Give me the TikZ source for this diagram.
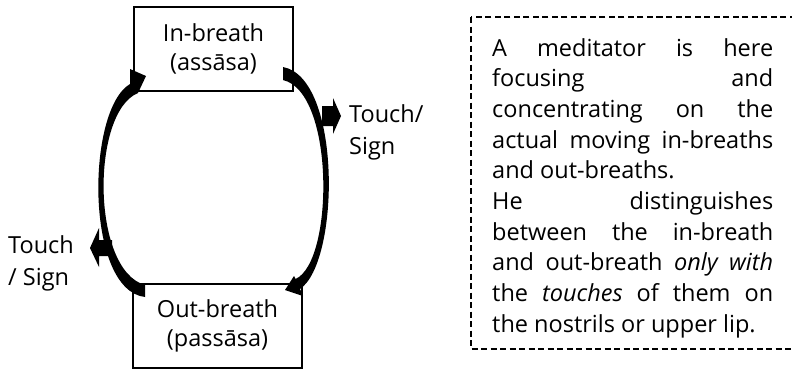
\documentclass[tikz,border=0pt]{standalone}
\usepackage{fontspec}
\setmainfont{Open Sans}
\begin{document}
\begin{tikzpicture}[x=1bp,y=-1bp]
\tikzset{
  boxnode/.style={draw, line width=1.2bp, minimum height=84bp, inner sep=0, align=center, font=\fontsize{23.5bp}{29bp}\selectfont},
  lbl/.style={align=left, inner sep=0, anchor=base west, font=\fontsize{23.5bp}{32bp}\selectfont},
  arcshape/.style={fill=black, draw=none},
  dashbox/.style={draw, line width=1.3bp, dash pattern=on 6bp off 3.5bp},
}
\useasboundingbox (0,0) rectangle (792,370);
\draw[dashbox] (471,17) rectangle (800,349);
\node[boxnode, minimum width=159bp] (in) at (213.5,49) {In-breath\\(assāsa)};
\node[boxnode, minimum width=169bp] (out) at (217.5,326) {Out-breath\\(passāsa)};
% left curved arrow (out -> in)
\fill[arcshape] (145,297) .. controls (85,290) and (86,110) .. (130,84) -- (130,69) -- (146,76) -- (138,93) .. controls (91,112) and (91,270) .. (145,285) -- cycle;
% right curved arrow (in -> out)
\fill[arcshape] (283,67) .. controls (342,78) and (340,262) .. (300,289) -- (303,296) -- (285,290) -- (294,276) -- (295.5,279) .. controls (334,262) and (335,92) .. (283,80) -- cycle;
% small block arrows
\fill[arcshape] (322,106) -- (333,106) -- (333,98) -- (341,116) -- (333,134) -- (333,126) -- (322,126) -- cycle;
\fill[arcshape] (112,240) -- (99,240) -- (99,228) -- (90,248) -- (99,267) -- (99,256) -- (112,256) -- cycle;
\node[lbl] (t1) at (349,154) {Touch/\\Sign};
\node[lbl] (t2) at (8,285) {Touch\\/ Sign};
\node[anchor=base west, text width=281bp, inner sep=0, align=justify, font=\fontsize{23.5bp}{30.7bp}\selectfont] (txt) at (492,56) {\hyphenpenalty=10000 \parindent=0pt
A meditator is here\linebreak focusing and\linebreak concentrating on the\linebreak actual moving in-breaths\linebreak and out-breaths.\par
He distinguishes\linebreak between the in-breath\linebreak and out-breath \textit{only with}\linebreak the \textit{touches} of them on\linebreak the nostrils or upper lip.};
\end{tikzpicture}
\end{document}
